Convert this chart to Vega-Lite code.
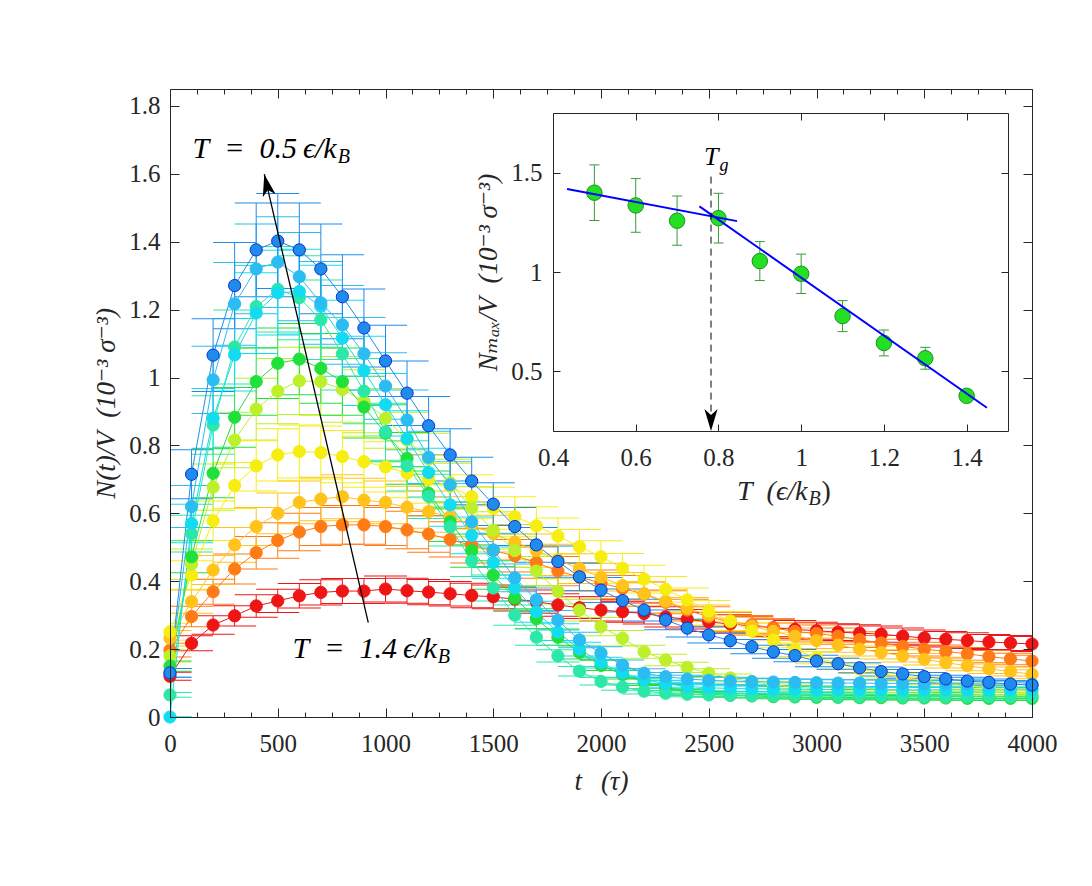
{
"$schema":"https://vega.github.io/schema/vega-lite/v6.json",
"width":862,"height":628,
"autosize":{"type":"none"},
"padding":{"left":170,"top":89,"right":60,"bottom":169},
"background":"white",
"config":{"view":{"stroke":null},"axis":{"zindex":1,"labelFont":"Liberation Serif","titleFont":"Liberation Serif, DejaVu Serif","labelColor":"#262626","titleColor":"#262626","domainColor":"#262626","tickColor":"#262626","grid":false,"labelFontSize":25,"titleFontSize":27,"titleFontWeight":"normal","domainWidth":1,"tickWidth":1}},
"datasets":{
"main":[
{"T":1.4,"t":0,"v":0.12,"e":0.012},{"T":1.4,"t":100,"v":0.217,"e":0.022},{"T":1.4,"t":200,"v":0.271,"e":0.027},{"T":1.4,"t":300,"v":0.298,"e":0.03},{"T":1.4,"t":400,"v":0.327,"e":0.033},{"T":1.4,"t":500,"v":0.342,"e":0.034},{"T":1.4,"t":600,"v":0.357,"e":0.036},{"T":1.4,"t":700,"v":0.367,"e":0.037},{"T":1.4,"t":800,"v":0.371,"e":0.037},{"T":1.4,"t":900,"v":0.371,"e":0.037},{"T":1.4,"t":1000,"v":0.377,"e":0.038},{"T":1.4,"t":1100,"v":0.372,"e":0.037},{"T":1.4,"t":1200,"v":0.368,"e":0.037},{"T":1.4,"t":1300,"v":0.363,"e":0.036},{"T":1.4,"t":1400,"v":0.358,"e":0.036},{"T":1.4,"t":1500,"v":0.354,"e":0.035},{"T":1.4,"t":1600,"v":0.347,"e":0.035},{"T":1.4,"t":1700,"v":0.34,"e":0.034},{"T":1.4,"t":1800,"v":0.33,"e":0.033},{"T":1.4,"t":1900,"v":0.322,"e":0.032},{"T":1.4,"t":2000,"v":0.315,"e":0.032},{"T":1.4,"t":2100,"v":0.31,"e":0.031},{"T":1.4,"t":2200,"v":0.305,"e":0.031},{"T":1.4,"t":2300,"v":0.295,"e":0.03},{"T":1.4,"t":2400,"v":0.288,"e":0.029},{"T":1.4,"t":2500,"v":0.28,"e":0.028},{"T":1.4,"t":2600,"v":0.274,"e":0.027},{"T":1.4,"t":2700,"v":0.268,"e":0.027},{"T":1.4,"t":2800,"v":0.263,"e":0.026},{"T":1.4,"t":2900,"v":0.258,"e":0.026},{"T":1.4,"t":3000,"v":0.254,"e":0.025},{"T":1.4,"t":3100,"v":0.25,"e":0.025},{"T":1.4,"t":3200,"v":0.247,"e":0.025},{"T":1.4,"t":3300,"v":0.244,"e":0.024},{"T":1.4,"t":3400,"v":0.238,"e":0.024},{"T":1.4,"t":3500,"v":0.233,"e":0.023},{"T":1.4,"t":3600,"v":0.229,"e":0.023},{"T":1.4,"t":3700,"v":0.225,"e":0.023},{"T":1.4,"t":3800,"v":0.221,"e":0.022},{"T":1.4,"t":3900,"v":0.218,"e":0.022},{"T":1.4,"t":4000,"v":0.215,"e":0.022},
{"T":1.3,"t":0,"v":0.197,"e":0.02},{"T":1.3,"t":100,"v":0.296,"e":0.03},{"T":1.3,"t":200,"v":0.369,"e":0.037},{"T":1.3,"t":300,"v":0.436,"e":0.044},{"T":1.3,"t":400,"v":0.484,"e":0.048},{"T":1.3,"t":500,"v":0.52,"e":0.052},{"T":1.3,"t":600,"v":0.545,"e":0.055},{"T":1.3,"t":700,"v":0.561,"e":0.056},{"T":1.3,"t":800,"v":0.566,"e":0.057},{"T":1.3,"t":900,"v":0.566,"e":0.057},{"T":1.3,"t":1000,"v":0.561,"e":0.056},{"T":1.3,"t":1100,"v":0.551,"e":0.055},{"T":1.3,"t":1200,"v":0.539,"e":0.054},{"T":1.3,"t":1300,"v":0.523,"e":0.052},{"T":1.3,"t":1400,"v":0.505,"e":0.051},{"T":1.3,"t":1500,"v":0.49,"e":0.049},{"T":1.3,"t":1600,"v":0.475,"e":0.048},{"T":1.3,"t":1700,"v":0.455,"e":0.046},{"T":1.3,"t":1800,"v":0.43,"e":0.043},{"T":1.3,"t":1900,"v":0.413,"e":0.041},{"T":1.3,"t":2000,"v":0.394,"e":0.039},{"T":1.3,"t":2100,"v":0.379,"e":0.038},{"T":1.3,"t":2200,"v":0.362,"e":0.036},{"T":1.3,"t":2300,"v":0.338,"e":0.034},{"T":1.3,"t":2400,"v":0.315,"e":0.032},{"T":1.3,"t":2500,"v":0.295,"e":0.03},{"T":1.3,"t":2600,"v":0.28,"e":0.028},{"T":1.3,"t":2700,"v":0.272,"e":0.027},{"T":1.3,"t":2800,"v":0.262,"e":0.026},{"T":1.3,"t":2900,"v":0.252,"e":0.025},{"T":1.3,"t":3000,"v":0.246,"e":0.025},{"T":1.3,"t":3100,"v":0.238,"e":0.024},{"T":1.3,"t":3200,"v":0.228,"e":0.023},{"T":1.3,"t":3300,"v":0.218,"e":0.022},{"T":1.3,"t":3400,"v":0.208,"e":0.021},{"T":1.3,"t":3500,"v":0.2,"e":0.02},{"T":1.3,"t":3600,"v":0.193,"e":0.019},{"T":1.3,"t":3700,"v":0.186,"e":0.019},{"T":1.3,"t":3800,"v":0.178,"e":0.018},{"T":1.3,"t":3900,"v":0.171,"e":0.017},{"T":1.3,"t":4000,"v":0.165,"e":0.017},
{"T":1.2,"t":0,"v":0.232,"e":0.023},{"T":1.2,"t":100,"v":0.34,"e":0.034},{"T":1.2,"t":200,"v":0.433,"e":0.043},{"T":1.2,"t":300,"v":0.507,"e":0.051},{"T":1.2,"t":400,"v":0.561,"e":0.056},{"T":1.2,"t":500,"v":0.6,"e":0.06},{"T":1.2,"t":600,"v":0.632,"e":0.063},{"T":1.2,"t":700,"v":0.642,"e":0.064},{"T":1.2,"t":800,"v":0.649,"e":0.065},{"T":1.2,"t":900,"v":0.639,"e":0.064},{"T":1.2,"t":1000,"v":0.632,"e":0.063},{"T":1.2,"t":1100,"v":0.618,"e":0.062},{"T":1.2,"t":1200,"v":0.605,"e":0.061},{"T":1.2,"t":1300,"v":0.59,"e":0.059},{"T":1.2,"t":1400,"v":0.565,"e":0.057},{"T":1.2,"t":1500,"v":0.54,"e":0.054},{"T":1.2,"t":1600,"v":0.515,"e":0.052},{"T":1.2,"t":1700,"v":0.49,"e":0.049},{"T":1.2,"t":1800,"v":0.463,"e":0.046},{"T":1.2,"t":1900,"v":0.437,"e":0.044},{"T":1.2,"t":2000,"v":0.412,"e":0.041},{"T":1.2,"t":2100,"v":0.387,"e":0.039},{"T":1.2,"t":2200,"v":0.363,"e":0.036},{"T":1.2,"t":2300,"v":0.341,"e":0.034},{"T":1.2,"t":2400,"v":0.32,"e":0.032},{"T":1.2,"t":2500,"v":0.3,"e":0.03},{"T":1.2,"t":2600,"v":0.283,"e":0.028},{"T":1.2,"t":2700,"v":0.267,"e":0.027},{"T":1.2,"t":2800,"v":0.252,"e":0.025},{"T":1.2,"t":2900,"v":0.238,"e":0.024},{"T":1.2,"t":3000,"v":0.225,"e":0.023},{"T":1.2,"t":3100,"v":0.212,"e":0.021},{"T":1.2,"t":3200,"v":0.2,"e":0.02},{"T":1.2,"t":3300,"v":0.19,"e":0.019},{"T":1.2,"t":3400,"v":0.18,"e":0.018},{"T":1.2,"t":3500,"v":0.17,"e":0.017},{"T":1.2,"t":3600,"v":0.16,"e":0.016},{"T":1.2,"t":3700,"v":0.151,"e":0.015},{"T":1.2,"t":3800,"v":0.142,"e":0.014},{"T":1.2,"t":3900,"v":0.134,"e":0.013},{"T":1.2,"t":4000,"v":0.126,"e":0.013},
{"T":1.1,"t":0,"v":0.251,"e":0.025},{"T":1.1,"t":100,"v":0.418,"e":0.042},{"T":1.1,"t":200,"v":0.578,"e":0.058},{"T":1.1,"t":300,"v":0.682,"e":0.068},{"T":1.1,"t":400,"v":0.74,"e":0.074},{"T":1.1,"t":500,"v":0.772,"e":0.077},{"T":1.1,"t":600,"v":0.782,"e":0.078},{"T":1.1,"t":700,"v":0.779,"e":0.078},{"T":1.1,"t":800,"v":0.767,"e":0.077},{"T":1.1,"t":900,"v":0.752,"e":0.075},{"T":1.1,"t":1000,"v":0.737,"e":0.074},{"T":1.1,"t":1100,"v":0.718,"e":0.072},{"T":1.1,"t":1200,"v":0.7,"e":0.07},{"T":1.1,"t":1300,"v":0.679,"e":0.068},{"T":1.1,"t":1400,"v":0.649,"e":0.065},{"T":1.1,"t":1500,"v":0.615,"e":0.062},{"T":1.1,"t":1600,"v":0.59,"e":0.059},{"T":1.1,"t":1700,"v":0.563,"e":0.056},{"T":1.1,"t":1800,"v":0.533,"e":0.053},{"T":1.1,"t":1900,"v":0.502,"e":0.05},{"T":1.1,"t":2000,"v":0.472,"e":0.047},{"T":1.1,"t":2100,"v":0.438,"e":0.044},{"T":1.1,"t":2200,"v":0.406,"e":0.041},{"T":1.1,"t":2300,"v":0.376,"e":0.038},{"T":1.1,"t":2400,"v":0.345,"e":0.035},{"T":1.1,"t":2500,"v":0.312,"e":0.031},{"T":1.1,"t":2600,"v":0.282,"e":0.028},{"T":1.1,"t":2700,"v":0.253,"e":0.025},{"T":1.1,"t":2800,"v":0.227,"e":0.023},{"T":1.1,"t":2900,"v":0.198,"e":0.02},{"T":1.1,"t":3000,"v":0.175,"e":0.018},{"T":1.1,"t":3100,"v":0.157,"e":0.016},{"T":1.1,"t":3200,"v":0.142,"e":0.014},{"T":1.1,"t":3300,"v":0.128,"e":0.013},{"T":1.1,"t":3400,"v":0.117,"e":0.012},{"T":1.1,"t":3500,"v":0.107,"e":0.011},{"T":1.1,"t":3600,"v":0.099,"e":0.01},{"T":1.1,"t":3700,"v":0.092,"e":0.009},{"T":1.1,"t":3800,"v":0.086,"e":0.009},{"T":1.1,"t":3900,"v":0.081,"e":0.008},{"T":1.1,"t":4000,"v":0.077,"e":0.008},
{"T":1.0,"t":0,"v":0.18,"e":0.018},{"T":1.0,"t":100,"v":0.45,"e":0.045},{"T":1.0,"t":200,"v":0.677,"e":0.068},{"T":1.0,"t":300,"v":0.816,"e":0.082},{"T":1.0,"t":400,"v":0.907,"e":0.091},{"T":1.0,"t":500,"v":0.96,"e":0.096},{"T":1.0,"t":600,"v":0.99,"e":0.099},{"T":1.0,"t":700,"v":0.988,"e":0.099},{"T":1.0,"t":800,"v":0.965,"e":0.097},{"T":1.0,"t":900,"v":0.93,"e":0.093},{"T":1.0,"t":1000,"v":0.88,"e":0.088},{"T":1.0,"t":1100,"v":0.816,"e":0.082},{"T":1.0,"t":1200,"v":0.76,"e":0.076},{"T":1.0,"t":1300,"v":0.69,"e":0.069},{"T":1.0,"t":1400,"v":0.616,"e":0.062},{"T":1.0,"t":1500,"v":0.55,"e":0.055},{"T":1.0,"t":1600,"v":0.49,"e":0.049},{"T":1.0,"t":1700,"v":0.43,"e":0.043},{"T":1.0,"t":1800,"v":0.37,"e":0.037},{"T":1.0,"t":1900,"v":0.315,"e":0.032},{"T":1.0,"t":2000,"v":0.266,"e":0.027},{"T":1.0,"t":2100,"v":0.232,"e":0.023},{"T":1.0,"t":2200,"v":0.192,"e":0.019},{"T":1.0,"t":2300,"v":0.168,"e":0.017},{"T":1.0,"t":2400,"v":0.146,"e":0.015},{"T":1.0,"t":2500,"v":0.129,"e":0.013},{"T":1.0,"t":2600,"v":0.115,"e":0.012},{"T":1.0,"t":2700,"v":0.104,"e":0.01},{"T":1.0,"t":2800,"v":0.095,"e":0.01},{"T":1.0,"t":2900,"v":0.088,"e":0.009},{"T":1.0,"t":3000,"v":0.083,"e":0.008},{"T":1.0,"t":3100,"v":0.079,"e":0.008},{"T":1.0,"t":3200,"v":0.076,"e":0.008},{"T":1.0,"t":3300,"v":0.073,"e":0.007},{"T":1.0,"t":3400,"v":0.071,"e":0.007},{"T":1.0,"t":3500,"v":0.07,"e":0.007},{"T":1.0,"t":3600,"v":0.069,"e":0.007},{"T":1.0,"t":3700,"v":0.068,"e":0.007},{"T":1.0,"t":3800,"v":0.067,"e":0.007},{"T":1.0,"t":3900,"v":0.066,"e":0.007},{"T":1.0,"t":4000,"v":0.065,"e":0.007},
{"T":0.9,"t":0,"v":0.15,"e":0.015},{"T":0.9,"t":100,"v":0.472,"e":0.047},{"T":0.9,"t":200,"v":0.718,"e":0.072},{"T":0.9,"t":300,"v":0.883,"e":0.088},{"T":0.9,"t":400,"v":0.988,"e":0.099},{"T":0.9,"t":500,"v":1.042,"e":0.104},{"T":0.9,"t":600,"v":1.054,"e":0.105},{"T":0.9,"t":700,"v":1.027,"e":0.103},{"T":0.9,"t":800,"v":0.988,"e":0.099},{"T":0.9,"t":900,"v":0.913,"e":0.091},{"T":0.9,"t":1000,"v":0.836,"e":0.084},{"T":0.9,"t":1100,"v":0.762,"e":0.076},{"T":0.9,"t":1200,"v":0.659,"e":0.066},{"T":0.9,"t":1300,"v":0.575,"e":0.058},{"T":0.9,"t":1400,"v":0.49,"e":0.049},{"T":0.9,"t":1500,"v":0.418,"e":0.042},{"T":0.9,"t":1600,"v":0.35,"e":0.035},{"T":0.9,"t":1700,"v":0.29,"e":0.029},{"T":0.9,"t":1800,"v":0.235,"e":0.024},{"T":0.9,"t":1900,"v":0.19,"e":0.019},{"T":0.9,"t":2000,"v":0.152,"e":0.015},{"T":0.9,"t":2100,"v":0.125,"e":0.013},{"T":0.9,"t":2200,"v":0.103,"e":0.01},{"T":0.9,"t":2300,"v":0.087,"e":0.009},{"T":0.9,"t":2400,"v":0.075,"e":0.008},{"T":0.9,"t":2500,"v":0.068,"e":0.007},{"T":0.9,"t":2600,"v":0.064,"e":0.006},{"T":0.9,"t":2700,"v":0.062,"e":0.006},{"T":0.9,"t":2800,"v":0.06,"e":0.006},{"T":0.9,"t":2900,"v":0.059,"e":0.006},{"T":0.9,"t":3000,"v":0.058,"e":0.006},{"T":0.9,"t":3100,"v":0.058,"e":0.006},{"T":0.9,"t":3200,"v":0.057,"e":0.006},{"T":0.9,"t":3300,"v":0.057,"e":0.006},{"T":0.9,"t":3400,"v":0.056,"e":0.006},{"T":0.9,"t":3500,"v":0.056,"e":0.006},{"T":0.9,"t":3600,"v":0.056,"e":0.006},{"T":0.9,"t":3700,"v":0.055,"e":0.006},{"T":0.9,"t":3800,"v":0.055,"e":0.006},{"T":0.9,"t":3900,"v":0.055,"e":0.006},{"T":0.9,"t":4000,"v":0.055,"e":0.006},
{"T":0.8,"t":0,"v":0.065,"e":0.007},{"T":0.8,"t":100,"v":0.54,"e":0.054},{"T":0.8,"t":200,"v":0.86,"e":0.086},{"T":0.8,"t":300,"v":1.09,"e":0.109},{"T":0.8,"t":400,"v":1.209,"e":0.121},{"T":0.8,"t":500,"v":1.26,"e":0.126},{"T":0.8,"t":600,"v":1.235,"e":0.124},{"T":0.8,"t":700,"v":1.17,"e":0.117},{"T":0.8,"t":800,"v":1.07,"e":0.107},{"T":0.8,"t":900,"v":0.96,"e":0.096},{"T":0.8,"t":1000,"v":0.84,"e":0.084},{"T":0.8,"t":1100,"v":0.74,"e":0.074},{"T":0.8,"t":1200,"v":0.65,"e":0.065},{"T":0.8,"t":1300,"v":0.56,"e":0.056},{"T":0.8,"t":1400,"v":0.46,"e":0.046},{"T":0.8,"t":1500,"v":0.38,"e":0.038},{"T":0.8,"t":1600,"v":0.3,"e":0.03},{"T":0.8,"t":1700,"v":0.235,"e":0.024},{"T":0.8,"t":1800,"v":0.18,"e":0.018},{"T":0.8,"t":1900,"v":0.135,"e":0.014},{"T":0.8,"t":2000,"v":0.105,"e":0.011},{"T":0.8,"t":2100,"v":0.088,"e":0.009},{"T":0.8,"t":2200,"v":0.076,"e":0.008},{"T":0.8,"t":2300,"v":0.07,"e":0.007},{"T":0.8,"t":2400,"v":0.067,"e":0.007},{"T":0.8,"t":2500,"v":0.065,"e":0.007},{"T":0.8,"t":2600,"v":0.064,"e":0.006},{"T":0.8,"t":2700,"v":0.063,"e":0.006},{"T":0.8,"t":2800,"v":0.063,"e":0.006},{"T":0.8,"t":2900,"v":0.062,"e":0.006},{"T":0.8,"t":3000,"v":0.062,"e":0.006},{"T":0.8,"t":3100,"v":0.061,"e":0.006},{"T":0.8,"t":3200,"v":0.061,"e":0.006},{"T":0.8,"t":3300,"v":0.061,"e":0.006},{"T":0.8,"t":3400,"v":0.06,"e":0.006},{"T":0.8,"t":3500,"v":0.06,"e":0.006},{"T":0.8,"t":3600,"v":0.06,"e":0.006},{"T":0.8,"t":3700,"v":0.06,"e":0.006},{"T":0.8,"t":3800,"v":0.06,"e":0.006},{"T":0.8,"t":3900,"v":0.06,"e":0.006},{"T":0.8,"t":4000,"v":0.06,"e":0.006},
{"T":0.7,"t":0,"v":0,"e":0},{"T":0.7,"t":100,"v":0.57,"e":0.057},{"T":0.7,"t":200,"v":0.88,"e":0.088},{"T":0.7,"t":300,"v":1.067,"e":0.107},{"T":0.7,"t":400,"v":1.19,"e":0.119},{"T":0.7,"t":500,"v":1.25,"e":0.125},{"T":0.7,"t":600,"v":1.253,"e":0.125},{"T":0.7,"t":700,"v":1.21,"e":0.121},{"T":0.7,"t":800,"v":1.116,"e":0.112},{"T":0.7,"t":900,"v":1.02,"e":0.102},{"T":0.7,"t":1000,"v":0.92,"e":0.092},{"T":0.7,"t":1100,"v":0.82,"e":0.082},{"T":0.7,"t":1200,"v":0.72,"e":0.072},{"T":0.7,"t":1300,"v":0.625,"e":0.063},{"T":0.7,"t":1400,"v":0.535,"e":0.054},{"T":0.7,"t":1500,"v":0.455,"e":0.046},{"T":0.7,"t":1600,"v":0.38,"e":0.038},{"T":0.7,"t":1700,"v":0.31,"e":0.031},{"T":0.7,"t":1800,"v":0.25,"e":0.025},{"T":0.7,"t":1900,"v":0.2,"e":0.02},{"T":0.7,"t":2000,"v":0.16,"e":0.016},{"T":0.7,"t":2100,"v":0.13,"e":0.013},{"T":0.7,"t":2200,"v":0.11,"e":0.011},{"T":0.7,"t":2300,"v":0.098,"e":0.01},{"T":0.7,"t":2400,"v":0.09,"e":0.009},{"T":0.7,"t":2500,"v":0.086,"e":0.009},{"T":0.7,"t":2600,"v":0.084,"e":0.008},{"T":0.7,"t":2700,"v":0.083,"e":0.008},{"T":0.7,"t":2800,"v":0.082,"e":0.008},{"T":0.7,"t":2900,"v":0.082,"e":0.008},{"T":0.7,"t":3000,"v":0.081,"e":0.008},{"T":0.7,"t":3100,"v":0.081,"e":0.008},{"T":0.7,"t":3200,"v":0.081,"e":0.008},{"T":0.7,"t":3300,"v":0.08,"e":0.008},{"T":0.7,"t":3400,"v":0.08,"e":0.008},{"T":0.7,"t":3500,"v":0.08,"e":0.008},{"T":0.7,"t":3600,"v":0.08,"e":0.008},{"T":0.7,"t":3700,"v":0.08,"e":0.008},{"T":0.7,"t":3800,"v":0.08,"e":0.008},{"T":0.7,"t":3900,"v":0.08,"e":0.008},{"T":0.7,"t":4000,"v":0.08,"e":0.008},
{"T":0.6,"t":0,"v":0.13,"e":0.013},{"T":0.6,"t":100,"v":0.62,"e":0.062},{"T":0.6,"t":200,"v":0.993,"e":0.099},{"T":0.6,"t":300,"v":1.217,"e":0.122},{"T":0.6,"t":400,"v":1.32,"e":0.132},{"T":0.6,"t":500,"v":1.34,"e":0.134},{"T":0.6,"t":600,"v":1.297,"e":0.13},{"T":0.6,"t":700,"v":1.22,"e":0.122},{"T":0.6,"t":800,"v":1.155,"e":0.116},{"T":0.6,"t":900,"v":1.07,"e":0.107},{"T":0.6,"t":1000,"v":0.975,"e":0.098},{"T":0.6,"t":1100,"v":0.875,"e":0.088},{"T":0.6,"t":1200,"v":0.765,"e":0.077},{"T":0.6,"t":1300,"v":0.684,"e":0.068},{"T":0.6,"t":1400,"v":0.575,"e":0.058},{"T":0.6,"t":1500,"v":0.492,"e":0.049},{"T":0.6,"t":1600,"v":0.41,"e":0.041},{"T":0.6,"t":1700,"v":0.345,"e":0.035},{"T":0.6,"t":1800,"v":0.285,"e":0.029},{"T":0.6,"t":1900,"v":0.227,"e":0.023},{"T":0.6,"t":2000,"v":0.188,"e":0.019},{"T":0.6,"t":2100,"v":0.153,"e":0.015},{"T":0.6,"t":2200,"v":0.129,"e":0.013},{"T":0.6,"t":2300,"v":0.119,"e":0.012},{"T":0.6,"t":2400,"v":0.112,"e":0.011},{"T":0.6,"t":2500,"v":0.108,"e":0.011},{"T":0.6,"t":2600,"v":0.106,"e":0.011},{"T":0.6,"t":2700,"v":0.104,"e":0.01},{"T":0.6,"t":2800,"v":0.103,"e":0.01},{"T":0.6,"t":2900,"v":0.102,"e":0.01},{"T":0.6,"t":3000,"v":0.101,"e":0.01},{"T":0.6,"t":3100,"v":0.1,"e":0.01},{"T":0.6,"t":3200,"v":0.1,"e":0.01},{"T":0.6,"t":3300,"v":0.099,"e":0.01},{"T":0.6,"t":3400,"v":0.099,"e":0.01},{"T":0.6,"t":3500,"v":0.098,"e":0.01},{"T":0.6,"t":3600,"v":0.098,"e":0.01},{"T":0.6,"t":3700,"v":0.098,"e":0.01},{"T":0.6,"t":3800,"v":0.097,"e":0.01},{"T":0.6,"t":3900,"v":0.097,"e":0.01},{"T":0.6,"t":4000,"v":0.097,"e":0.01},
{"T":0.5,"t":0,"v":0.13,"e":0.013},{"T":0.5,"t":100,"v":0.715,"e":0.072},{"T":0.5,"t":200,"v":1.066,"e":0.107},{"T":0.5,"t":300,"v":1.271,"e":0.127},{"T":0.5,"t":400,"v":1.376,"e":0.138},{"T":0.5,"t":500,"v":1.402,"e":0.14},{"T":0.5,"t":600,"v":1.376,"e":0.138},{"T":0.5,"t":700,"v":1.32,"e":0.132},{"T":0.5,"t":800,"v":1.238,"e":0.124},{"T":0.5,"t":900,"v":1.146,"e":0.115},{"T":0.5,"t":1000,"v":1.049,"e":0.105},{"T":0.5,"t":1100,"v":0.954,"e":0.095},{"T":0.5,"t":1200,"v":0.858,"e":0.086},{"T":0.5,"t":1300,"v":0.772,"e":0.077},{"T":0.5,"t":1400,"v":0.695,"e":0.07},{"T":0.5,"t":1500,"v":0.627,"e":0.063},{"T":0.5,"t":1600,"v":0.561,"e":0.056},{"T":0.5,"t":1700,"v":0.507,"e":0.051},{"T":0.5,"t":1800,"v":0.458,"e":0.046},{"T":0.5,"t":1900,"v":0.413,"e":0.041},{"T":0.5,"t":2000,"v":0.374,"e":0.037},{"T":0.5,"t":2100,"v":0.343,"e":0.034},{"T":0.5,"t":2200,"v":0.315,"e":0.032},{"T":0.5,"t":2300,"v":0.286,"e":0.029},{"T":0.5,"t":2400,"v":0.262,"e":0.026},{"T":0.5,"t":2500,"v":0.242,"e":0.024},{"T":0.5,"t":2600,"v":0.225,"e":0.023},{"T":0.5,"t":2700,"v":0.207,"e":0.021},{"T":0.5,"t":2800,"v":0.192,"e":0.019},{"T":0.5,"t":2900,"v":0.181,"e":0.018},{"T":0.5,"t":3000,"v":0.165,"e":0.017},{"T":0.5,"t":3100,"v":0.157,"e":0.016},{"T":0.5,"t":3200,"v":0.145,"e":0.015},{"T":0.5,"t":3300,"v":0.134,"e":0.013},{"T":0.5,"t":3400,"v":0.127,"e":0.013},{"T":0.5,"t":3500,"v":0.119,"e":0.012},{"T":0.5,"t":3600,"v":0.112,"e":0.011},{"T":0.5,"t":3700,"v":0.106,"e":0.011},{"T":0.5,"t":3800,"v":0.102,"e":0.01},{"T":0.5,"t":3900,"v":0.097,"e":0.01},{"T":0.5,"t":4000,"v":0.094,"e":0.009}
],
"inset":[
{"T":0.5,"N":1.399,"e":0.14},{"T":0.6,"N":1.335,"e":0.135},{"T":0.7,"N":1.258,"e":0.124},{"T":0.8,"N":1.271,"e":0.125},{"T":0.9,"N":1.055,"e":0.098},{"T":1.0,"N":0.991,"e":0.099},{"T":1.1,"N":0.778,"e":0.078},{"T":1.2,"N":0.643,"e":0.065},{"T":1.3,"N":0.566,"e":0.055},{"T":1.4,"N":0.377,"e":0.012}
]
},
"layer":[
{
"data":{"name":"main"},
"encoding":{
"x":{"field":"t","type":"quantitative","title":"t\u2002\u2009(τ)","scale":{"domain":[0,4000],"nice":false,"zero":false},"axis":{"zindex":1,"orient":"bottom","values":[0,500,1000,1500,2000,2500,3000,3500,4000],"format":"d","tickSize":-9,"labelPadding":23,"labelFlush":false,"labelOverlap":false,"title":"t\u2002\u2009(τ)","titleFontStyle":"italic","titlePadding":12}},
"y":{"field":"v","type":"quantitative","title":"N(t)/V\u2002(10⁻³ σ⁻³)","scale":{"domain":[0,1.85],"nice":false,"zero":false},"axis":{"zindex":1,"orient":"left","values":[0,0.2,0.4,0.6,0.8,1,1.2,1.4,1.6,1.8],"format":"~g","tickSize":-9,"labelPadding":19,"labelOverlap":false,"title":"N(t)/V\u2002(10⁻³ σ⁻³)","titleFontStyle":"italic","titlePadding":8}},
"color":{"field":"T","type":"ordinal","scale":{"domain":[0.5,0.6,0.7,0.8,0.9,1.0,1.1,1.2,1.3,1.4],"range":["#1f8ceb","#2bbcf2","#14dcf0","#2ce8a8","#22e03c","#bdf02a","#f6ee10","#ffc31c","#ff7b16","#ee1515"]},"legend":null}
},
"layer":[
{"mark":{"type":"errorbar","ticks":true,"size":43,"thickness":1,"opacity":1,"clip":true},"encoding":{"yError":{"field":"e"}}},
{"mark":{"type":"line","strokeWidth":1,"clip":true}},
{"mark":{"type":"circle","size":150,"opacity":1,"strokeWidth":1},"encoding":{"stroke":{"field":"T","type":"ordinal","scale":{"domain":[0.5,0.6,0.7,0.8,0.9,1.0,1.1,1.2,1.3,1.4],"range":["#0a2fd6","#2bbcf2","#14dcf0","#2ce8a8","#22e03c","#bdf02a","#f6ee10","#ffc31c","#ff7b16","#ee1515"]},"legend":null}}},
{"data":{"values":[{"t":920,"v":0.278,"t2":437.6,"v2":1.599}]},"mark":{"type":"rule","strokeWidth":1.3},"encoding":{"x":{"field":"t","type":"quantitative"},"y":{"field":"v","type":"quantitative"},"x2":{"field":"t2"},"y2":{"field":"v2"},"color":{"value":"#000000"}}},
{"data":{"values":[{"t":449,"v":1.567}]},"mark":{"type":"point","shape":"M0,-1L0.6,1L0,0.45L-0.6,1Z","size":484,"filled":true,"angle":-13,"opacity":1},"encoding":{"x":{"field":"t","type":"quantitative"},"y":{"field":"v","type":"quantitative"},"color":{"value":"#000000"}}},
{"data":{"values":[{"t":773.5,"v":1.646,"a":"T\u2002=\u20020.5\u2009ϵ/k"},{"t":1237.6,"v":0.173,"a":"T\u2002=\u20021.4\u2009ϵ/k"}]},
 "encoding":{"x":{"field":"t","type":"quantitative"},"y":{"field":"v","type":"quantitative"},"color":{"value":"#000000"}},
 "layer":[
  {"mark":{"type":"text","align":"right","baseline":"alphabetic","font":"Liberation Serif","fontSize":30,"fontStyle":"italic"},"encoding":{"text":{"field":"a"}}},
  {"mark":{"type":"text","align":"left","baseline":"alphabetic","font":"Liberation Serif","fontSize":20,"fontStyle":"italic","dx":1,"dy":5},"encoding":{"text":{"value":"B"}}}
 ]}
]
},
{
"data":{"values":[{"a":0}]},
"mark":{"type":"point","opacity":0},
"encoding":{
"x":{"datum":0,"type":"quantitative","scale":{"domain":[0,4000],"nice":false,"zero":false},"axis":{"zindex":1,"orient":"top","values":[0,500,1000,1500,2000,2500,3000,3500,4000],"labels":false,"tickSize":-9,"title":null}},
"y":{"datum":0,"type":"quantitative","scale":{"domain":[0,1.85],"nice":false,"zero":false},"axis":{"zindex":1,"orient":"right","values":[0,0.2,0.4,0.6,0.8,1,1.2,1.4,1.6,1.8],"labels":false,"tickSize":-9,"title":null}}
}
},
{
"data":{"values":[{"a":0}]},
"mark":{"type":"point","opacity":0},
"encoding":{
"x":{"datum":0,"type":"quantitative","scale":{"domain":[0,4000],"nice":false,"zero":false},"axis":{"zindex":1,"orient":"bottom","values":[125,250,375,625,750,875,1125,1250,1375,1625,1750,1875,2125,2250,2375,2625,2750,2875,3125,3250,3375,3625,3750,3875],"labels":false,"domain":false,"tickSize":-5,"title":null}},
"y":{"datum":0,"type":"quantitative","scale":{"domain":[0,1.85],"nice":false,"zero":false},"axis":null}
}
},
{
"data":{"values":[{"a":0}]},
"mark":{"type":"point","opacity":0},
"encoding":{
"x":{"datum":0,"type":"quantitative","scale":{"domain":[0,4000],"nice":false,"zero":false},"axis":{"zindex":1,"orient":"top","values":[125,250,375,625,750,875,1125,1250,1375,1625,1750,1875,2125,2250,2375,2625,2750,2875,3125,3250,3375,3625,3750,3875],"labels":false,"domain":false,"tickSize":-5,"title":null}},
"y":{"datum":0,"type":"quantitative","scale":{"domain":[0,1.85],"nice":false,"zero":false},"axis":null}
}
},
{
"layer":[
{"data":{"values":[{"T":0.4,"T2":1.5,"N":0.2,"N2":1.8}]},"mark":{"type":"rect","fill":"white","zindex":0},
 "encoding":{
 "x":{"field":"T","type":"quantitative","title":null,"scale":{"domain":[0.4,1.5],"range":[383,838],"nice":false,"zero":false},"axis":{"zindex":2,"orient":"bottom","offset":-286,"values":[0.4,0.6,0.8,1,1.2,1.4],"format":"~g","tickSize":-7,"labelPadding":21,"labelFlush":false,"labelOverlap":false,"title":null}},
 "x2":{"field":"T2"},
 "y":{"field":"N","type":"quantitative","title":"Nₘₐₓ/V\u2002(10⁻³ σ⁻³)","scale":{"domain":[0.2,1.8],"range":[342,24],"nice":false,"zero":false},"axis":{"zindex":2,"orient":"left","offset":-383,"values":[0.5,1,1.5],"format":"~g","tickSize":-7,"labelPadding":18,"labelOverlap":false,"title":"Nₘₐₓ/V\u2002(10⁻³ σ⁻³)","titleFontStyle":"italic","titlePadding":8}},
 "y2":{"field":"N2"}}},
{"data":{"name":"inset"},"mark":{"type":"errorbar","ticks":true,"size":10,"thickness":1,"opacity":1,"color":"#3a9a3a"},"encoding":{"x":{"field":"T","type":"quantitative","title":null},"y":{"field":"N","type":"quantitative","title":"Nₘₐₓ/V\u2002(10⁻³ σ⁻³)"},"yError":{"field":"e"}}},
{"data":{"name":"inset"},"mark":{"type":"circle","size":240,"fill":"#22e022","stroke":"#2a8a2a","strokeWidth":1,"opacity":1},"encoding":{"x":{"field":"T","type":"quantitative","title":null},"y":{"field":"N","type":"quantitative","title":"Nₘₐₓ/V\u2002(10⁻³ σ⁻³)"}}},
{"data":{"values":[{"g":"a","T":0.434,"N":1.418},{"g":"a","T":0.845,"N":1.256},{"g":"b","T":0.754,"N":1.33},{"g":"b","T":1.449,"N":0.317}]},"mark":{"type":"line","color":"#0000ff","strokeWidth":2},"encoding":{"x":{"field":"T","type":"quantitative","title":null},"y":{"field":"N","type":"quantitative","title":"Nₘₐₓ/V\u2002(10⁻³ σ⁻³)"},"detail":{"field":"g"}}},
{"data":{"values":[{"T":0.782,"N":1.48,"N2":0.22}]},"mark":{"type":"rule","strokeDash":[7,5],"color":"#000000","strokeWidth":1},"encoding":{"x":{"field":"T","type":"quantitative","title":null},"y":{"field":"N","type":"quantitative","title":"Nₘₐₓ/V\u2002(10⁻³ σ⁻³)"},"y2":{"field":"N2"}}},
{"data":{"values":[{"T":0.782,"N":0.255}]},"mark":{"type":"point","shape":"M0,1L-0.6,-1L0,-0.45L0.6,-1Z","size":484,"filled":true,"color":"#000000","opacity":1},"encoding":{"x":{"field":"T","type":"quantitative","title":null},"y":{"field":"N","type":"quantitative","title":"Nₘₐₓ/V\u2002(10⁻³ σ⁻³)"}}},
{"data":{"values":[{"T":0.8,"N":1.537}]},
 "encoding":{"x":{"field":"T","type":"quantitative","title":null},"y":{"field":"N","type":"quantitative","title":"Nₘₐₓ/V\u2002(10⁻³ σ⁻³)"}},
 "layer":[
  {"mark":{"type":"text","align":"right","baseline":"alphabetic","font":"Liberation Serif","fontSize":26,"fontStyle":"italic","color":"#000000"},"encoding":{"text":{"value":"T"}}},
  {"mark":{"type":"text","align":"left","baseline":"alphabetic","font":"Liberation Serif","fontSize":18,"fontStyle":"italic","color":"#000000","dx":1,"dy":6},"encoding":{"text":{"value":"g"}}}
 ]},
{"data":{"values":[{"T":1.015,"N":-0.145}]},
 "encoding":{"x":{"field":"T","type":"quantitative","title":null},"y":{"field":"N","type":"quantitative","title":"Nₘₐₓ/V\u2002(10⁻³ σ⁻³)"}},
 "layer":[
  {"mark":{"type":"text","align":"right","baseline":"alphabetic","font":"Liberation Serif","fontSize":28,"fontStyle":"italic","color":"#262626"},"encoding":{"text":{"value":"T\u2002(ϵ/k"}}},
  {"mark":{"type":"text","align":"left","baseline":"alphabetic","font":"Liberation Serif","fontSize":20,"fontStyle":"italic","color":"#262626","dx":1,"dy":5},"encoding":{"text":{"value":"B"}}},
  {"mark":{"type":"text","align":"left","baseline":"alphabetic","font":"Liberation Serif","fontSize":28,"color":"#262626","dx":14},"encoding":{"text":{"value":")"}}}
 ]}
]
},
{
"data":{"values":[{"a":0}]},
"mark":{"type":"point","opacity":0},
"encoding":{
"x":{"datum":0.4,"type":"quantitative","scale":{"domain":[0.4,1.5],"range":[383,838],"nice":false,"zero":false},"axis":{"zindex":2,"orient":"top","offset":-24,"values":[0.4,0.6,0.8,1,1.2,1.4],"labels":false,"tickSize":-7,"title":null}},
"y":{"datum":0.2,"type":"quantitative","scale":{"domain":[0.2,1.8],"range":[342,24],"nice":false,"zero":false},"axis":{"zindex":2,"orient":"right","offset":-24,"values":[0.5,1,1.5],"labels":false,"tickSize":-7,"title":null}}
}
}
],
"resolve":{"scale":{"x":"independent","y":"independent"},"axis":{"x":"independent","y":"independent"}}
}
